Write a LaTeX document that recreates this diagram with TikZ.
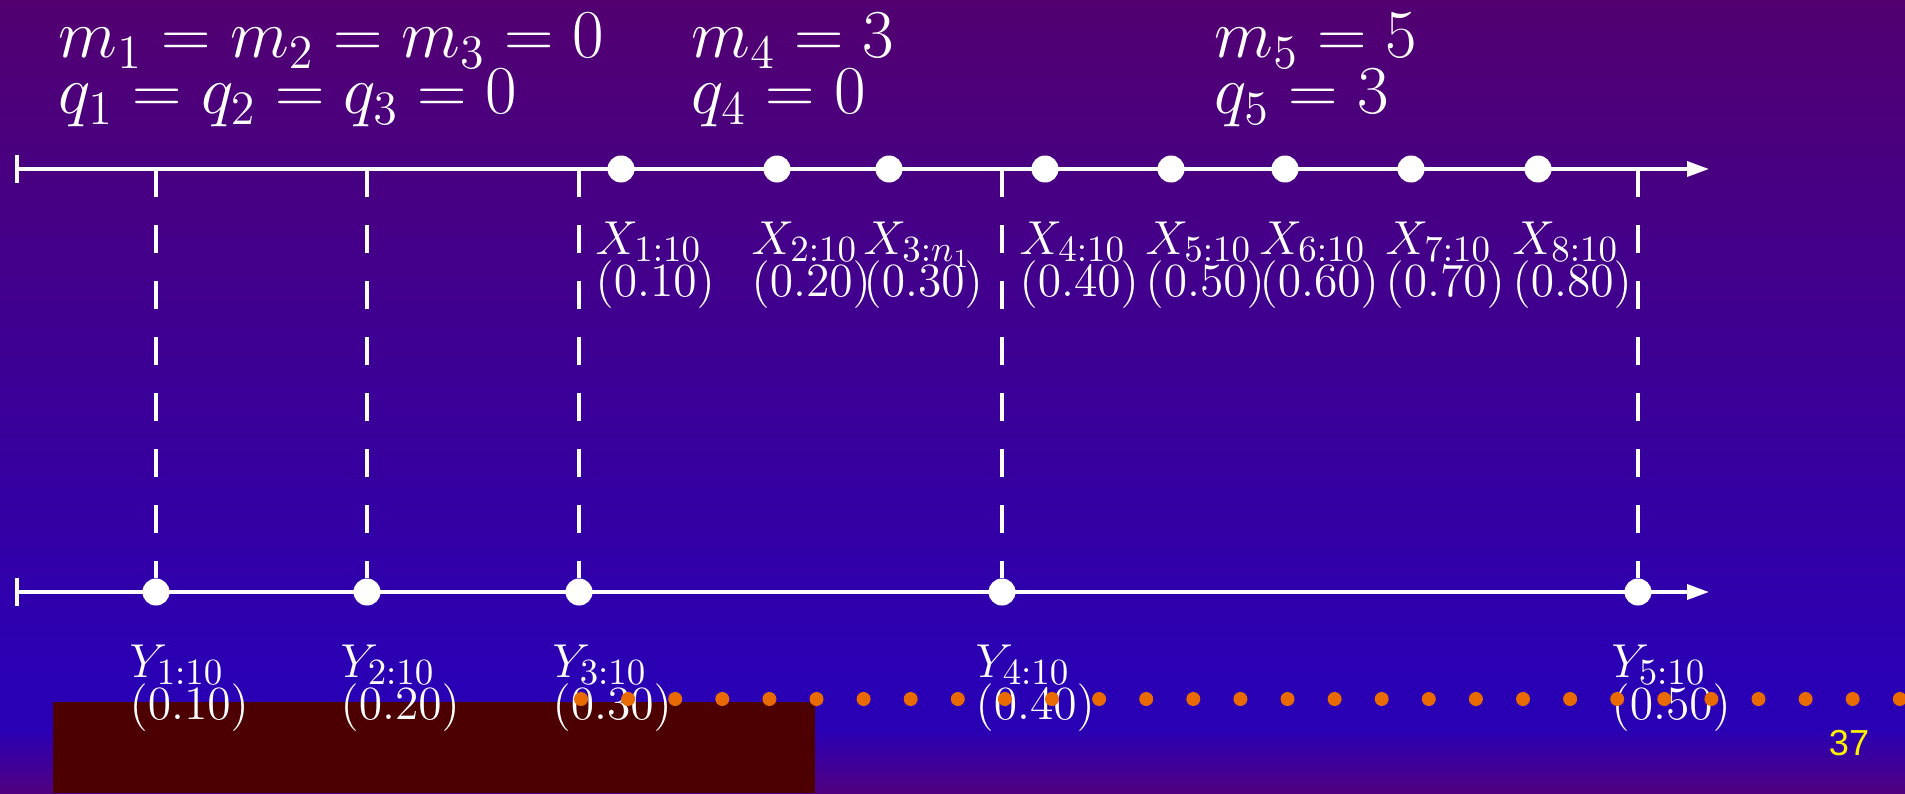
\RequirePackage{fix-cm}
\documentclass[tikz,border=0pt]{standalone}
\usepackage{fontspec}
\newfontfamily\pagenumfont{Liberation Sans}
\usepackage{tikz}
\usetikzlibrary{arrows.meta,positioning,calc}
\DeclareMathSizes{13.55}{13.55}{10.5}{7.5}
\newcommand{\tightlines}{\lineskiplimit -20pt\relax}
\definecolor{bgtop}{RGB}{82,0,112}
\definecolor{bgblue}{RGB}{42,0,180}
\definecolor{bgbot}{RGB}{80,0,128}
\definecolor{darkred}{RGB}{77,0,0}
\definecolor{dotorange}{RGB}{232,106,0}
\pgfdeclareverticalshading{slidebg}{100bp}{color(0bp)=(bgbot); color(25bp)=(bgbot); color(29bp)=(bgblue); color(32bp)=(bgblue); color(75bp)=(bgtop); color(100bp)=(bgtop)}

\begin{document}
\begin{tikzpicture}[
  axisline/.style={white,line width=1pt,{Bar[width=2.8mm]}-{Triangle[length=2.2mm,width=1.5mm]}},
  obs/.style={circle,fill=white,inner sep=0pt,minimum size=2.7mm},
  guide/.style={white,line width=1pt,dash pattern=on 2.8mm off 2.8mm},
  lab/.style={text=white,anchor=north west,inner sep=0pt,align=left,font={\fontsize{13.55}{11.9}\selectfont\tightlines}},
  head/.style={text=white,anchor=north west,inner sep=0pt,align=left,font={\fontsize{19.5}{15.9}\selectfont\tightlines}}
]
\useasboundingbox (0,0) rectangle (19.05,7.93);
\shade[shading=slidebg] (0,0) rectangle (19.05,7.93);
\fill[darkred] (0.53,0) rectangle (8.15,0.91);

% the two axes
\coordinate (xa) at (0.155,6.24);
\coordinate (xb) at (17.09,6.24);
\coordinate (ya) at (0.155,2.01);
\coordinate (yb) at (17.09,2.01);
\draw[axisline] (xa) -- (xb);
\draw[axisline] (ya) -- (yb);

% merged sample Y with guides up to the X axis
\foreach \x/\i/\v in {1.56/1/0.10,3.67/2/0.20,5.79/3/0.30,10.02/4/0.40,16.38/5/0.50}{
  \coordinate (g\i) at (\x,6.24);
  \node[obs] (y\i) at (\x,2.01) {};
  \draw[guide] (g\i) -- (y\i);
  \node[lab] (yl\i) at ([shift={(-0.27,-0.52)}]y\i.center) {$Y_{\i:10}$\\$(\v)$};
}

% sample X
\foreach \x/\i/\s/\v in {6.21/1/1:10/0.10,7.77/2/2:10/0.20,8.89/3/3:n_1/0.30,10.45/4/4:10/0.40,
    11.71/5/5:10/0.50,12.85/6/6:10/0.60,14.11/7/7:10/0.70,15.38/8/8:10/0.80}{
  \node[obs] (x\i) at (\x,6.24) {};
  \node[lab] (xl\i) at ([shift={(-0.26,-0.52)}]x\i.center) {$X_{\s}$\\$(\v)$};
}

\node[head] (h1) at (0.58,7.80) {$m_1=m_2=m_3=0$\\$q_1=q_2=q_3=0$};
\node[head] (h2) at (6.91,7.80) {$m_4=3$\\$q_4=0$};
\node[head] (h3) at (12.14,7.80) {$m_5=5$\\$q_5=3$};

\foreach \k in {0,...,28}
  \fill[dotorange] (5.81+0.471*\k,0.94) circle (0.07);

\node[text=yellow,font=\pagenumfont\fontsize{10.3}{12}\selectfont,anchor=base,inner sep=0pt] (pg) at (18.49,0.38) {37};
\end{tikzpicture}
\end{document}
